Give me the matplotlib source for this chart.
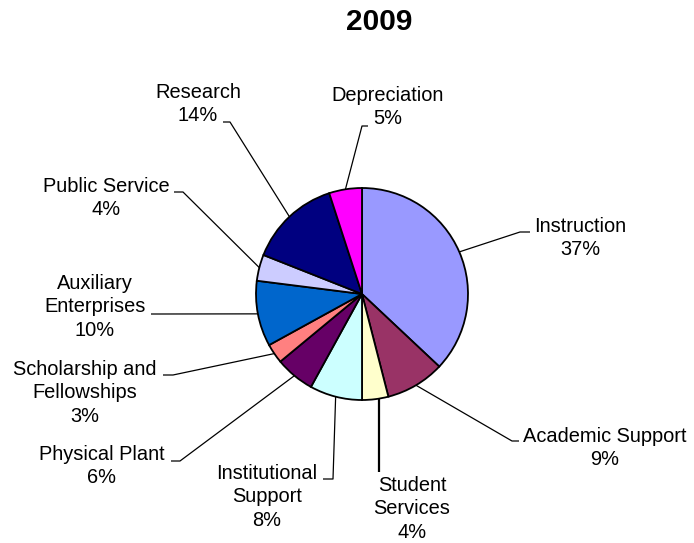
import numpy as np
import matplotlib
matplotlib.use("Agg")
import matplotlib.pyplot as plt

# expense shares, 2009 (percent)
categories = ["Instruction", "Academic Support", "Student Services",
              "Institutional Support", "Physical Plant",
              "Scholarship and Fellowships", "Auxiliary Enterprises",
              "Public Service", "Research", "Depreciation"]
label_text = ["Instruction", "Academic Support", "Student\nServices",
              "Institutional\nSupport", "Physical Plant",
              "Scholarship and\nFellowships", "Auxiliary\nEnterprises",
              "Public Service", "Research", "Depreciation"]
values = [37, 9, 4, 8, 6, 3, 10, 4, 14, 5]
colors = ["#9999FF", "#993366", "#FFFFCC", "#CCFFFF", "#660066",
          "#FF8080", "#0066CC", "#CCCCFF", "#000080", "#FF00FF"]

W, H = 694, 543

# label layout in pixel coords (y down): text centre, elbow, stub end
text_pos = [(580, 238), (605, 448), (412, 509), (267, 497), (102, 466),
            (85, 393), (95, 307), (106, 198), (198, 104), (388, 107)]
elbows = [(520, 232), (512, 441), (379, 472), (333, 479), (180, 461),
          (173, 375), (160, 314), (183, 192), (230, 122), (362, 126)]
stubs = [(530, 232), (519, 441), (379, 472), (323, 479), (171, 461),
         (163, 375), (151, 314), (174, 192), (223, 122), (368, 126)]

plt.rcParams['font.family'] = ['Liberation Sans', 'DejaVu Sans']

fig = plt.figure(figsize=(W / 100, H / 100), dpi=100)
ax = fig.add_axes([0, 0, 1, 1])


def py(y):
  return H - y


cx, cy, r = 362, py(294), 106
wedges, _ = ax.pie(values, colors=colors, startangle=90, counterclock=False,
                   center=(cx, cy), radius=r, frame=True,
                   wedgeprops=dict(edgecolor='black', linewidth=1.3))
ax.set_xlim(0, W)
ax.set_ylim(0, H)
ax.set_aspect('equal')
ax.axis('off')

for i, w in enumerate(wedges):
  ang = np.deg2rad((w.theta1 + w.theta2) / 2)
  ex, ey = cx + r * np.cos(ang), cy + r * np.sin(ang)
  bx, by = elbows[i]
  sx, sy = stubs[i]
  if categories[i] == "Student Services":
    ex = bx  # straight drop in the original
  ax.plot([ex, bx, sx], [ey, py(by), py(sy)], color='black',
          lw=1.6 if categories[i] == "Student Services" else 0.9,
          solid_capstyle='butt', zorder=0)
  tx, ty = text_pos[i]
  ax.text(tx, py(ty), label_text[i] + "\n" + str(values[i]) + "%",
          ha='center', va='center', fontsize=14.4, linespacing=1.33,
          multialignment='center')

ax.text(379, py(22), "2009", ha='center', va='center', fontsize=21.5,
        fontweight='bold')

fig.savefig("out.png", dpi=100)
